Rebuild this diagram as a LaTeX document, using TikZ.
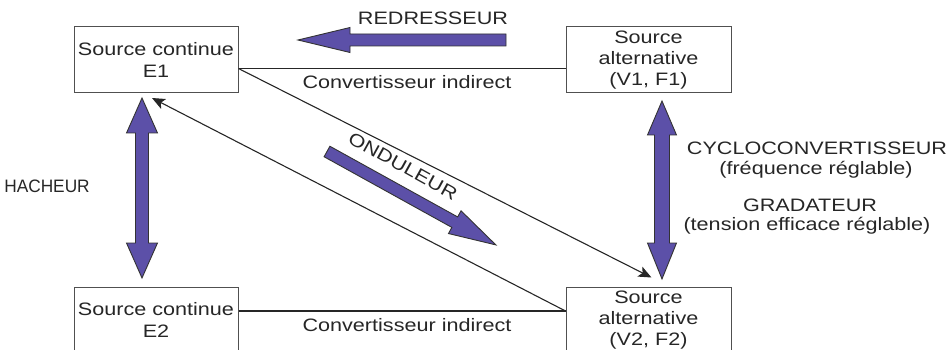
\documentclass[tikz,border=0pt]{standalone}
\usepackage{fontspec}
\setmainfont[FakeStretch=1.2]{Liberation Sans}
\usetikzlibrary{arrows.meta,calc}
\definecolor{bigarrow}{RGB}{92,80,168}
\definecolor{boxline}{RGB}{80,80,80}
\begin{document}
\begin{tikzpicture}[x=1pt,y=-1pt,
  every node/.style={font=\fontsize{18}{21}\selectfont, text=black!85},
  srcbox/.style={draw=boxline, line width=1pt, minimum width=164pt, minimum height=66pt, align=center, inner sep=0pt},
  conn/.style={draw=black!85, line width=1.1pt},
  tipped/.style={-{Stealth[length=13pt,width=11pt,inset=3pt]}},
  fat/.style={fill=bigarrow, draw=black!80, line width=0.9pt, line join=miter}]
\useasboundingbox (0,0) rectangle (951,350);
% boxes
\node[srcbox] (E1) at (156,60) {Source continue\\[1pt]E1};
\node[srcbox, minimum width=165pt] (A1) at (648.5,60) {Source\\alternative\\(V1, F1)};
\node[srcbox] (E2) at (156,320) {Source continue\\[1pt]E2};
\node[srcbox, minimum width=165pt] (A2) at (648.5,320) {Source\\alternative\\(V2, F2)};
% connectors
\draw[conn] ([yshift=-8.5pt]E1.east) -- ([yshift=-8.5pt]A1.west);
\draw[conn, tipped] ([yshift=-8.5pt]E1.east) -- ([xshift=3pt,yshift=9pt]A2.north);
\draw[conn, tipped] ([yshift=9pt]A2.west) -- ([xshift=-4pt,yshift=-4.5pt]E1.south);
\draw[conn] ([yshift=9pt]E2.east) -- ([yshift=9pt]A2.west);
\node (L1) at (407,82) {Convertisseur indirect};
\node (L2) at (407,325) {Convertisseur indirect};
% big arrows
\draw[fat] (298,40) -- (350,27.5) -- (350,34) -- (506,34) -- (506,46) -- (350,46) -- (350,52.5) -- cycle;
\node (red) at (433,18) {REDRESSEUR};
\draw[fat] (142,98) -- (157.5,133) -- (148.5,133) -- (148.5,243) -- (157.5,243) -- (142,278) -- (126.5,243) -- (135.5,243) -- (135.5,133) -- (126.5,133) -- cycle;
\node (hach) at (47,186) {\scalebox{0.8}[1]{HACHEUR}};
\draw[fat] (662,101) -- (676.5,135) -- (669.5,135) -- (669.5,243) -- (676.5,243) -- (662,279) -- (647.5,243) -- (654.5,243) -- (654.5,135) -- (647.5,135) -- cycle;
\begin{scope}[shift={(327,151.5)}, rotate=-28.95]
\draw[fat] (0,-6) -- (146,-6) -- (146,-13) -- (193,0) -- (146,13) -- (146,6) -- (0,6) -- cycle;
\end{scope}
\node[rotate=-29, inner sep=1pt] (ond) at (403,166) {ONDULEUR};
\node (cyc) at (817,148) {CYCLOCONVERTISSEUR};
\node (freq) at (816,170) {(fréquence réglable)};
\node (grad) at (810,205) {GRADATEUR};
\node (tens) at (807,226) {(tension efficace réglable)};
\end{tikzpicture}
\end{document}
